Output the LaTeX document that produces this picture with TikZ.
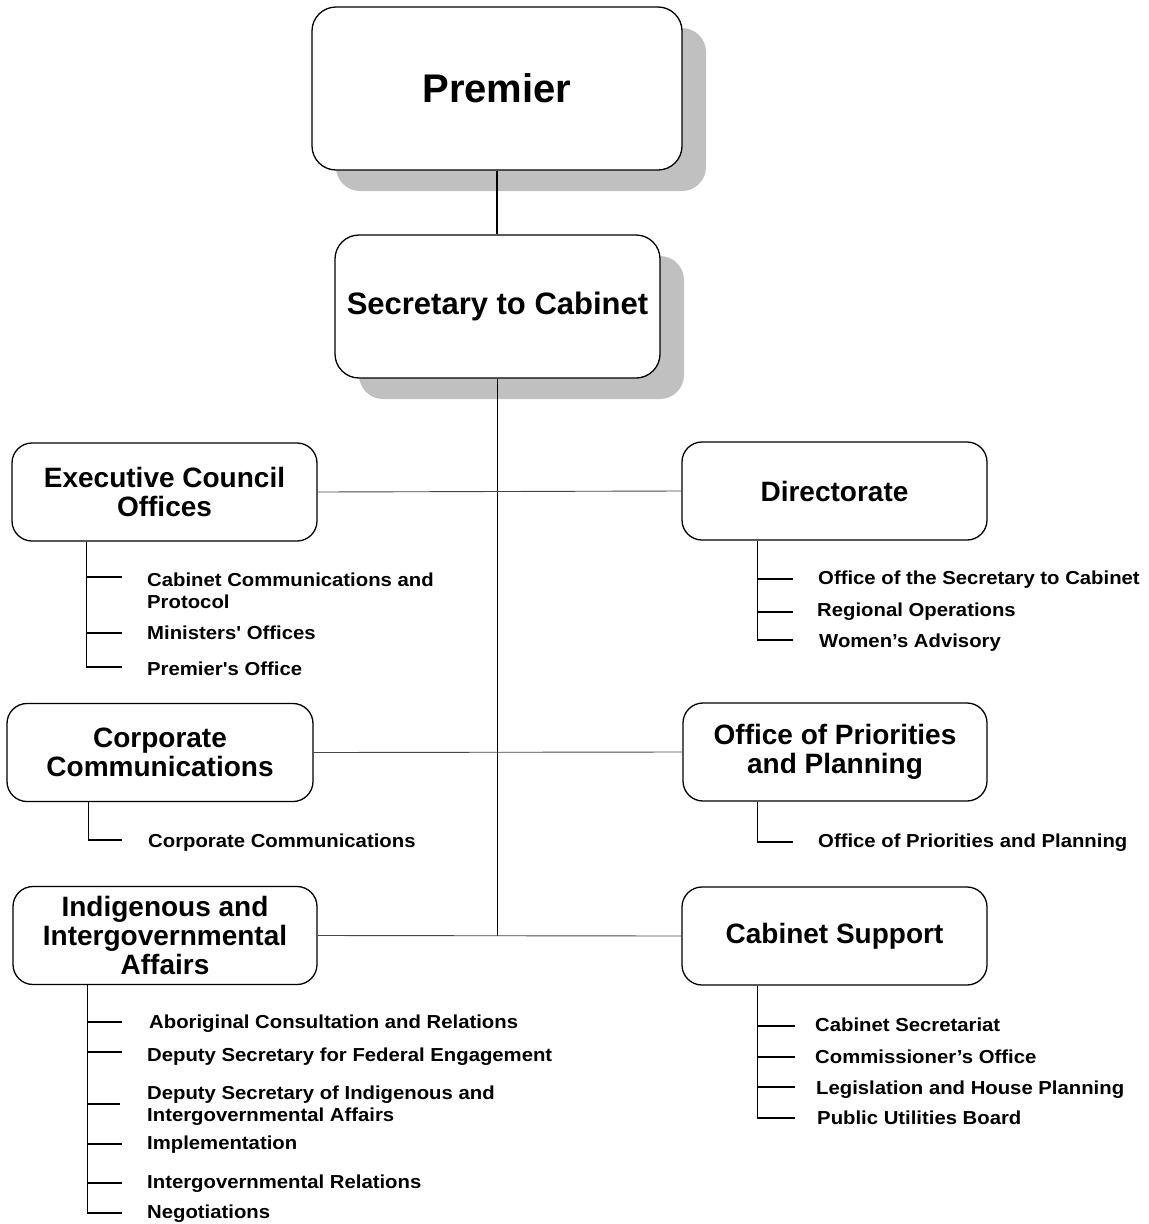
\documentclass[tikz,border=0pt]{standalone}
\usepackage{fontspec}
\setmainfont{Liberation Sans}
\newfontfamily\subfont{Liberation Sans}[FakeStretch=1.08]
\usetikzlibrary{shadows}
\definecolor{shadowgray}{RGB}{192,192,192}
\definecolor{linegray}{RGB}{70,70,70}
\begin{document}
\begin{tikzpicture}[x=1pt,y=-1pt,
  unitbox/.style={draw=black,line width=1.3pt,fill=white,rounded corners=20pt,
    align=center,font=\bfseries\fontsize{28}{29}\selectfont,inner sep=0pt,
    minimum width=305pt,minimum height=98pt},
  topbox/.style={unitbox,rounded corners=24pt,
    drop shadow={shadow xshift=24pt,shadow yshift=-21pt,fill=shadowgray,opacity=1}},
  item/.style={anchor=west,align=left,inner sep=0pt,
    font=\subfont\bfseries\fontsize{18.8}{22}\selectfont,
    text height=13.5pt,text depth=0pt},
  link/.style={draw=linegray,line width=0.9pt},
  branch/.style={draw=black,line width=1.1pt}]
\useasboundingbox (0,0) rectangle (1149,1224);

% top of the hierarchy
\node[topbox,minimum width=370pt,minimum height=163pt,
  font=\bfseries\fontsize{40}{42}\selectfont] (premier) at (497,88.5) {Premier};
\node[topbox,minimum width=325pt,minimum height=143pt,
  font=\bfseries\fontsize{31}{33}\selectfont] (sec) at (497.5,306.5) {Secretary to Cabinet};

% divisions
\node[unitbox] (exec) at (164.5,492) {Executive Council\\Offices};
\node[unitbox] (dir)  at (834.5,491) {Directorate};
\node[unitbox,minimum width=306pt] (corp) at (160,752.5) {Corporate\\Communications};
\node[unitbox,minimum width=304pt] (prio) at (835,752) {Office of Priorities\\and Planning};
\node[unitbox,minimum width=304pt] (ind)  at (165,935.5) {Indigenous and\\Intergovernmental\\Affairs};
\node[unitbox] (cab)  at (834.5,936) {Cabinet Support};

% main connectors
\draw[branch] (premier.south) -- (premier.south |- sec.north);
\draw[branch] (sec.south) -- (sec.south |- ind.east);
\draw[link] (exec.east) -- (dir.west);
\draw[link] (corp.east) -- (prio.west);
\draw[link] (ind.east) -- (cab.west);

% Executive Council Offices units
\coordinate (exsp) at ([xshift=75pt]exec.south west);
\coordinate (ex1) at (122,577);
\coordinate (ex2) at (122,633);
\coordinate (ex3) at (122,667);
\draw[branch] (exsp) |- (ex3);
\draw[branch] (exsp |- ex1) -- (ex1);
\draw[branch] (exsp |- ex2) -- (ex2);
\node[item] (exl1) at (147,602) {Cabinet Communications and\\Protocol};
\node[item] (exl2) at (147,633) {Ministers' Offices};
\node[item] (exl3) at (147,669) {Premier's Office};

% Directorate units
\coordinate (drsp) at ([xshift=76pt]dir.south west);
\coordinate (dr1) at (793,579);
\coordinate (dr2) at (793,612);
\coordinate (dr3) at (793,640);
\draw[branch] (drsp) |- (dr3);
\draw[branch] (drsp |- dr1) -- (dr1);
\draw[branch] (drsp |- dr2) -- (dr2);
\node[item] (drl1) at (818,578) {Office of the Secretary to Cabinet};
\node[item] (drl2) at (817,610) {Regional Operations};
\node[item] (drl3) at (819,641) {Women’s Advisory};

% Corporate Communications unit
\coordinate (cosp) at ([xshift=82pt]corp.south west);
\coordinate (co1) at (122,840);
\draw[branch] (cosp) |- (co1);
\node[item] (col1) at (148,841) {Corporate Communications};

% Office of Priorities and Planning unit
\coordinate (prsp) at ([xshift=75pt]prio.south west);
\coordinate (pr1) at (793,842);
\draw[branch] (prsp) |- (pr1);
\node[item] (prl1) at (818,841) {Office of Priorities and Planning};

% Indigenous and Intergovernmental Affairs units
\coordinate (insp) at ([xshift=75pt]ind.south west);
\coordinate (in1) at (122,1022);
\coordinate (in2) at (122,1052);
\coordinate (in3) at (120,1104);
\coordinate (in4) at (122,1144);
\coordinate (in5) at (122,1183);
\coordinate (in6) at (122,1213);
\draw[branch] (insp) |- (in6);
\foreach \t in {in1,in2,in3,in4,in5}
  \draw[branch] (insp |- \t) -- (\t);
\node[item] (inl1) at (149,1022) {Aboriginal Consultation and Relations};
\node[item] (inl2) at (147,1055) {Deputy Secretary for Federal Engagement};
\node[item] (inl3) at (147,1115) {Deputy Secretary of Indigenous and\\Intergovernmental Affairs};
\node[item] (inl4) at (147,1143) {Implementation};
\node[item] (inl5) at (147,1182) {Intergovernmental Relations};
\node[item] (inl6) at (147,1212) {Negotiations};

% Cabinet Support units
\coordinate (cbsp) at ([xshift=76pt]cab.south west);
\coordinate (cb1) at (795,1026);
\coordinate (cb2) at (795,1057);
\coordinate (cb3) at (795,1087);
\coordinate (cb4) at (795,1118);
\draw[branch] (cbsp) |- (cb4);
\foreach \t in {cb1,cb2,cb3}
  \draw[branch] (cbsp |- \t) -- (\t);
\node[item] (cbl1) at (815,1025) {Cabinet Secretariat};
\node[item] (cbl2) at (815,1057) {Commissioner’s Office};
\node[item] (cbl3) at (816,1088) {Legislation and House Planning};
\node[item] (cbl4) at (817,1118) {Public Utilities Board};
\end{tikzpicture}
\end{document}
